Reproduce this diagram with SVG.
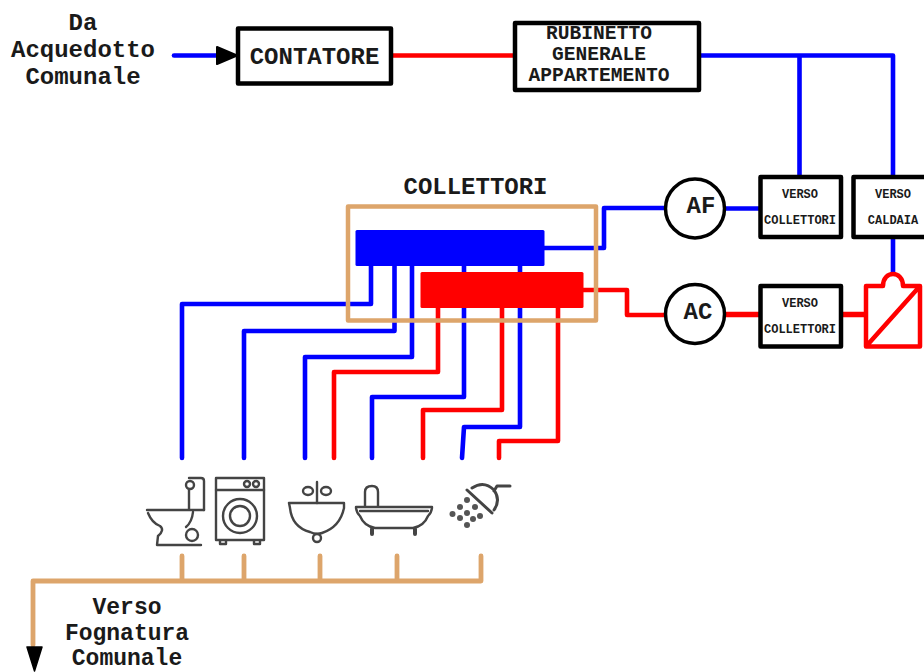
<svg xmlns="http://www.w3.org/2000/svg" width="924" height="672" viewBox="0 0 924 672">
<style>
text{font-family:"Liberation Mono","DejaVu Sans Mono",monospace;font-weight:700;fill:#1a1a1a;text-anchor:middle}
.t24{font-size:24px}.t23{font-size:23px}.t20{font-size:19.6px}.t12{font-size:12px}
.box{fill:#fff;stroke:#000;stroke-width:4.500;stroke-linejoin:round}
.circ{fill:#fff;stroke:#000;stroke-width:3.500}
.b,.r,.h{fill:none;stroke-width:4.600;stroke-linejoin:round;stroke-linecap:round}
.b{stroke:#00f}.r{stroke:#f00}.h{stroke:#dda56b;stroke-width:4.800}
.ic{fill:none;stroke:#444;stroke-width:2.400;stroke-linejoin:round;stroke-linecap:round}
.dot{fill:#555}
</style>
<rect width="924" height="672" fill="#fff"/>
<g id="connectors">
<path class="b" d="M174 55.500H222"/>
<path class="r" d="M392 55.500H514"/>
<path class="b" d="M700 55.500H893V175M799.500 55.500V175"/>
<path class="b" d="M725 208.500H759"/>
<path class="b" d="M893 238V273"/>
<path class="b" d="M544 248H604V208H667"/>
<path class="r" d="M583 290H627V315H666"/>
<path class="r" d="M723 314.500H760M842 314.500H864" style="stroke-width:5.500"/>
<path class="b" d="M371 266V304H182V458"/>
<path class="b" d="M394.500 266V331H244V458"/>
<path class="b" d="M412 266V357H305V458"/>
<path class="r" d="M438 308V372H334V458"/>
<path class="b" d="M464 266V272M464 308V397H372V458"/>
<path class="r" d="M502 308V410H423V458"/>
<path class="b" d="M520 266V272M520 308V427H464L462 458"/>
<path class="r" d="M558 308V441H499V458"/>
<path class="h" d="M33 645V581H481V556M182 581V556M244 581V556M320 581V556M397 581V556"/>
<path d="M217 47L237 55.500L217 64Z" fill="#000" stroke="#000" stroke-width="2" stroke-linejoin="round"/>
<path d="M27 647H42L34.500 671Z" fill="#000" stroke="#000" stroke-width="1.500" stroke-linejoin="round"/>
</g>
<g id="label-acquedotto">
<text class="t24" x="83" y="30">Da</text>
<text class="t24" x="83" y="57">Acquedotto</text>
<text class="t24" x="83" y="84">Comunale</text>
</g>
<g id="contatore">
<rect class="box" x="238" y="28.500" width="153" height="55"/>
<text class="t24" x="314.500" y="64">CONTATORE</text>
</g>
<g id="rubinetto">
<rect class="box" x="515" y="23" width="184" height="67"/>
<text class="t20" x="599" y="39">RUBINETTO</text>
<text class="t20" x="599" y="60">GENERALE</text>
<text class="t20" x="599" y="81">APPARTEMENTO</text>
</g>
<g id="collettori">
<text class="t24" x="475.500" y="194">COLLETTORI</text>
<rect x="348" y="206.500" width="248" height="114" fill="none" stroke="#dda56b" stroke-width="4.500" stroke-linejoin="round"/>
<rect x="355.500" y="230" width="189" height="36" rx="1.500" fill="#00f"/>
<rect x="420.500" y="272" width="163" height="36" rx="1.500" fill="#f00"/>
</g>
<g id="af">
<circle class="circ" cx="695" cy="208.500" r="29.500"/>
<text class="t24" x="701" y="213">AF</text>
</g>
<g id="ac">
<circle class="circ" cx="695" cy="314" r="29.500"/>
<text class="t24" x="698" y="319">AC</text>
</g>
<g id="verso-collettori-af">
<rect class="box" x="760.500" y="177" width="80.500" height="60"/>
<text class="t12" x="800" y="198">VERSO</text>
<text class="t12" x="800" y="224">COLLETTORI</text>
</g>
<g id="verso-caldaia">
<rect class="box" x="853.500" y="177" width="80" height="60"/>
<text class="t12" x="893" y="198">VERSO</text>
<text class="t12" x="893" y="224">CALDAIA</text>
</g>
<g id="verso-collettori-ac">
<rect class="box" x="760.500" y="286" width="80.500" height="60.500"/>
<text class="t12" x="800" y="307">VERSO</text>
<text class="t12" x="800" y="333">COLLETTORI</text>
</g>
<g id="caldaia">
<path d="M866 286H883C883 270 903 270 903 286H920V346.500H866ZM866 346.500L920 286" fill="#fff" stroke="#f00" stroke-width="4.500" stroke-linejoin="round"/>
</g>
<g id="wc">
<path class="ic" d="M147 510H204M148 513Q152 523 160 526Q165 530 158 536L157 545H201M193 512Q192 522 186 527"/>
<circle class="ic" cx="192" cy="535" r="6"/>
<path class="ic" d="M189 509V490M189 478H201Q204 478 204 481V510"/>
<circle class="ic" cx="190" cy="485" r="4"/>
</g>
<g id="lavatrice">
<rect class="ic" x="216" y="478" width="48" height="62"/>
<path class="ic" d="M216 490H264M220 541V544H226V541M254 541V544H260V541"/>
<circle class="ic" cx="247" cy="484" r="3"/><circle class="ic" cx="256" cy="484" r="3"/>
<circle class="ic" cx="240" cy="516" r="17"/><circle class="ic" cx="240" cy="516" r="10"/>
</g>
<g id="lavabo">
<path class="ic" d="M289 503H344V508Q340 527 322 533Q316 535 310 532Q292 527 290 508Z"/>
<circle class="ic" cx="317" cy="538" r="4"/>
<path class="ic" d="M317 482V503"/>
<ellipse class="ic" cx="308" cy="491" rx="5" ry="4"/><ellipse class="ic" cx="326" cy="491" rx="5" ry="4"/>
</g>
<g id="vasca">
<path class="ic" d="M356 507H432Q432 512 428 516Q424 526 413 528H375Q364 526 360 516Q356 512 356 507ZM360 511H428M365 507V492Q365 486 372 486Q378 486 378 492V507"/>
<path class="ic" d="M372 529V534M415 529V534" style="stroke-width:4"/>
</g>
<g id="doccia">
<path class="ic" d="M467 490L492 513M472 488Q484 480 494 490Q501 500 494 510M494 491L497 486H510" style="stroke-width:3"/>
<circle class="dot" cx="452.500" cy="514" r="3"/><circle class="dot" cx="460" cy="507" r="3"/><circle class="dot" cx="467" cy="500" r="3"/>
<circle class="dot" cx="460" cy="518" r="3"/><circle class="dot" cx="467" cy="513" r="3"/><circle class="dot" cx="475" cy="507" r="3"/>
<circle class="dot" cx="467" cy="525" r="3"/><circle class="dot" cx="473" cy="519" r="3"/><circle class="dot" cx="480" cy="516" r="3"/>
</g>
<g id="label-fognatura">
<text class="t23" x="127" y="614">Verso</text>
<text class="t23" x="127" y="640">Fognatura</text>
<text class="t23" x="127" y="665">Comunale</text>
</g>
</svg>
